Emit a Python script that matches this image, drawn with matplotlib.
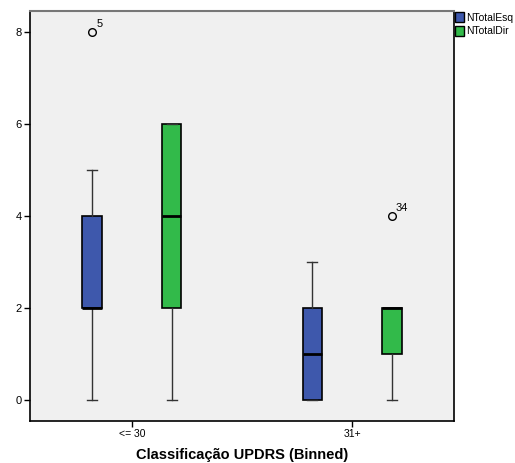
from matplotlib import pyplot as plt
from matplotlib.patches import Patch

plt.rcParams['font.family'] = ['Liberation Sans', 'DejaVu Sans']

groups = ["<= 30", "31+"]
series = ["NTotalEsq", "NTotalDir"]
colors = ["#3E58AC", "#32BA4A"]

# box stats per series: [group <=30, group 31+]
whislo = [[0, 0], [0, 0]]
q1 = [[2, 0], [2, 1]]
med = [[2, 1], [4, 2]]
q3 = [[4, 2], [6, 2]]
whishi = [[5, 3], [6, 2]]
outliers = [[[8], []], [[], [4]]]
outlier_ids = [[["5"], []], [[], ["34"]]]

fig = plt.figure(figsize=(5.15, 4.63), dpi=100)
ax = fig.add_axes([30/515, 1-421/463, 424/515, 410/463])
ax.set_facecolor("#F0F0F0")

offsets = [-0.18, 0.18]
for s in range(2):
    stats = []
    for g in range(2):
        stats.append(dict(whislo=whislo[s][g], q1=q1[s][g], med=med[s][g],
                          q3=q3[s][g], whishi=whishi[s][g], fliers=outliers[s][g]))
    pos = [g + offsets[s] for g in range(2)]
    ax.bxp(stats, positions=pos, widths=0.09, patch_artist=True, showfliers=True,
           boxprops=dict(facecolor=colors[s], edgecolor="black", linewidth=1.2),
           medianprops=dict(color="black", linewidth=2),
           whiskerprops=dict(color="#333333", linewidth=1),
           capprops=dict(color="#333333", linewidth=1),
           capwidths=0.045,
           flierprops=dict(marker="o", markerfacecolor="none", markeredgecolor="black",
                           markersize=5.5, markeredgewidth=1))
    for g in range(2):
        for v, lab in zip(outliers[s][g], outlier_ids[s][g]):
            ax.annotate(lab, (g + offsets[s], v), xytext=(3, 2), textcoords="offset points",
                        fontsize=8, ha="left", va="bottom")

ax.set_xlim(-0.4636, 1.4636)
ax.set_ylim(-0.457, 8.457)
ax.set_xticks([0, 1])
ax.set_xticklabels(groups, fontsize=7.5)
ax.set_yticks([0, 2, 4, 6, 8])
ax.set_yticklabels(["0", "2", "4", "6", "8"], fontsize=8)
ax.tick_params(length=4, width=1, pad=2)
ax.set_xlabel("Classificação UPDRS (Binned)", fontsize=10.5, fontweight="bold", labelpad=6)
for side in ["left", "bottom", "right"]:
    ax.spines[side].set_color("black")
    ax.spines[side].set_linewidth(1.2)
ax.spines["top"].set_color("#777777")
ax.spines["top"].set_linewidth(1.5)

handles = [Patch(facecolor=c, edgecolor="black", label=l) for c, l in zip(colors, series)]
fig.legend(handles=handles, loc="upper left", bbox_to_anchor=(453/515, 1-10/463),
           frameon=False, fontsize=7.5, handlelength=0.9, handleheight=1.1,
           handletextpad=0.2, labelspacing=0.3, borderpad=0.2, borderaxespad=0)

plt.savefig("out.png", dpi=100)
